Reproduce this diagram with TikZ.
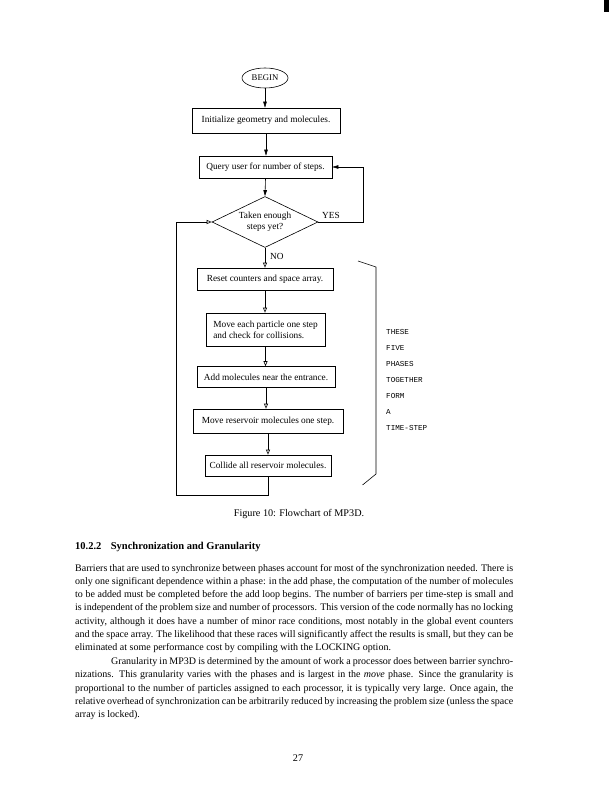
\documentclass[tikz,border=0pt]{standalone}
\usepackage{fontspec}
\setmainfont{Liberation Serif}
\newfontfamily\monofont{Liberation Mono}
\usepackage{tikz}
\usetikzlibrary{shapes.geometric, arrows.meta, positioning, calc}

\begin{document}
\begin{tikzpicture}[
    x=1pt, y=-1pt,
    box/.style={draw, line width=0.6pt, minimum height=22pt, inner sep=2pt, font=\fontsize{9.3}{11}\selectfont},
    decision/.style={diamond, draw, line width=0.6pt, aspect=2, inner sep=0pt, align=center, font=\fontsize{9.3}{11}\selectfont},
    arr/.style={-{Triangle[length=6pt, width=3.5pt]}, line width=0.6pt},
    arro/.style={-{Triangle[open, length=5pt, width=4pt]}, line width=0.6pt},
    lbl/.style={inner sep=0pt, font=\fontsize{9.3}{11}\selectfont},
    side/.style={anchor=west, inner sep=0pt, font=\monofont\fontsize{7.6}{9}\selectfont},
    body/.style={anchor=base west, text width=438pt, align=justify, inner sep=0pt, font=\fontsize{10}{13.3}\selectfont}
]
\useasboundingbox (0,0) rectangle (612,791);
\fill (604,0) rectangle (609,12);

% Start and set-up
\node[ellipse, draw, line width=0.6pt, minimum width=46pt, minimum height=20pt, inner sep=0pt, font=\fontsize{8.7}{10}\selectfont] (begin) at (265,78) {BEGIN};
\node[box, minimum width=148pt, minimum height=25pt] (init) at (266,120.5) {Initialize geometry and molecules.};
\node[box, minimum width=133pt] (query) at (265.5,167) {Query user for number of steps.};
\node[decision, minimum width=106pt, minimum height=51pt] (test) at (265,222) {Taken enough\\steps yet?};

% Time-step phases
\node[box, minimum width=136pt] (reset) at (265,279) {Reset counters and space array.};
\node[box, minimum width=119pt, minimum height=33pt, align=left] (move) at (265.5,329.5) {Move each particle one step\\and check for collisions.};
\node[box, minimum width=138pt, minimum height=21pt] (add) at (266,377) {Add molecules near the entrance.};
\node[box, minimum width=150pt, minimum height=24pt] (movres) at (268,421) {Move reservoir molecules one step.};
\node[box, minimum width=126pt, minimum height=21pt] (collide) at (268,465.5) {Collide all reservoir molecules.};

% Connectors
\draw[arr] (begin) -- (begin |- init.north);
\draw[arr] (init.south) -- (init.south |- query.north);
\draw[arr] (query.south) -- (test.north);
\draw[arro] (test.south) -- (reset.north);
\draw[arro] (reset.south) -- (reset.south |- move.north);
\draw[arro] (move.south) -- (move.south |- add.north);
\draw[arro] (add.south) -- (add.south |- movres.north);
\draw[arro] (movres.south) -- (movres.south |- collide.north);

% Loop back and exit
\coordinate (loopcorner) at (176,495);
\coordinate (yescorner) at (363,222);
\draw[arro] (collide.south) |- (loopcorner) |- (test.west);
\draw[arr] (test.east) -- (yescorner) |- (query.east);
\node[lbl, anchor=base west] (yes) at (322,219) {YES};
\node[lbl, anchor=base west] (no) at (270,259.5) {NO};

% Bracket and note
\draw[line width=0.6pt] (358,261) -- (376,267) -- (376,474) -- (362.5,485);
\node[side] (n1) at (386,332.3) {THESE};
\node[side] (n2) at (386,348.3) {FIVE};
\node[side] (n3) at (386,364.3) {PHASES};
\node[side] (n4) at (386,380.3) {TOGETHER};
\node[side] (n5) at (386,396.3) {FORM};
\node[side] (n6) at (386,412.3) {A};
\node[side] (n7) at (386,428.3) {TIME-STEP};

% Caption and text
\node[anchor=base, inner sep=0pt, font=\fontsize{10.2}{12}\selectfont] (cap) at (299,516) {Figure 10: Flowchart of MP3D.};
\node[anchor=base west, inner sep=0pt, font=\fontsize{10.5}{12}\bfseries] (head) at (75,549) {10.2.2\hspace{0.9em}Synchronization and Granularity};
\node[body] (par1) at (75,571) {Barriers that are used to synchronize between phases account for most of the synchronization needed. There is\linebreak
only one significant dependence within a phase: in the add phase, the computation of the number of molecules\linebreak
to be added must be completed before the add loop begins. The number of barriers per time-step is small and\linebreak
is independent of the problem size and number of processors. This version of the code normally has no locking\linebreak
activity, although it does have a number of minor race conditions, most notably in the global event counters\linebreak
and the space array. The likelihood that these races will significantly affect the results is small, but they can be\linebreak
eliminated at some performance cost by compiling with the LOCKING option.};
\node[body] (par2) at (75,664.6) {\hspace*{36pt}Granularity in MP3D is determined by the amount of work a processor does between barrier synchro-\linebreak
nizations. This granularity varies with the phases and is largest in the \emph{move} phase. Since the granularity is\linebreak
proportional to the number of particles assigned to each processor, it is typically very large. Once again, the\linebreak
relative overhead of synchronization can be arbitrarily reduced by increasing the problem size (unless the space\linebreak
array is locked).};
\node[anchor=base, inner sep=0pt, font=\fontsize{10.2}{12}\selectfont] (pageno) at (298,761) {27};
\end{tikzpicture}
\end{document}
